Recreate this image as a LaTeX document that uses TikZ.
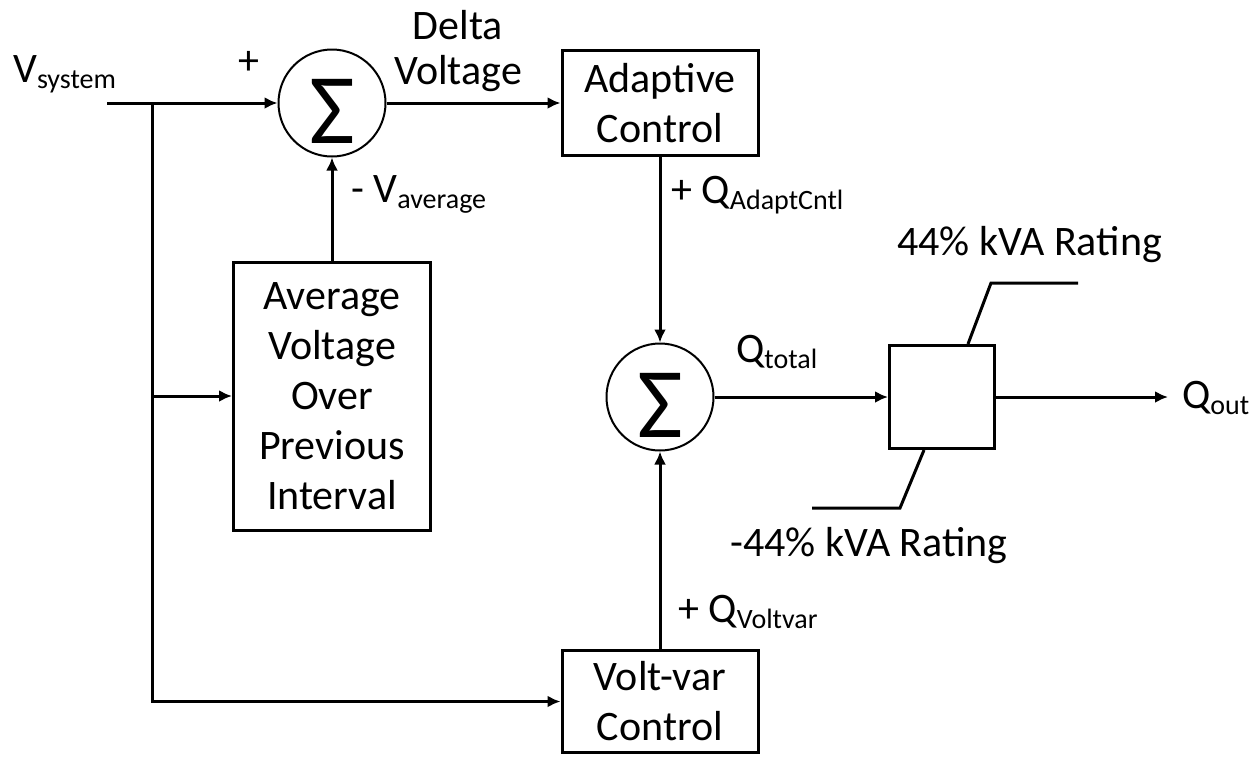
\documentclass[tikz,border=0pt]{standalone}
\usepackage{fontspec}
\setmainfont{Carlito}
\usetikzlibrary{arrows.meta}
\newcommand{\lowtxt}[1]{\raisebox{-6pt}{\fontsize{28}{28}\selectfont #1}}
\newcommand{\sigfont}{\fontsize{100}{100}\selectfont}
\begin{document}
\begin{tikzpicture}[x=1pt, y=-1pt, >={Latex[length=13pt,width=12pt]}]
	\tikzset{
		blok/.style={draw, line width=3pt, align=center, inner sep=0pt, font=\fontsize{42}{50}\selectfont},
		sumnode/.style={draw, circle, line width=2pt, minimum size=107pt, inner sep=0pt,
			label={[font=\sigfont, yshift=-8pt]center:Σ}},
		lbl/.style={inner sep=0pt, font=\fontsize{42}{50}\selectfont},
		wire/.style={line width=3pt}
	}
	\useasboundingbox (0,0) rectangle (1253,756);
	% --- 1. Blocks ---
	\node[sumnode] (sumA) at (332,103) {};
	\node[sumnode] (sumB) at (660,397) {};
	\node[blok, minimum width=196pt, minimum height=105pt] (adapt) at (660,103) {Adaptive\\Control};
	\node[blok, minimum width=197pt, minimum height=268pt] (avg) at (332,396) {Average\\Voltage\\Over\\Previous\\Interval};
	\node[blok, minimum width=196pt, minimum height=102pt] (volt) at (660,701.5) {Volt-var\\Control};
	\node[blok, minimum width=105pt, minimum height=103pt] (lim) at (942,397) {};
	% --- 2. Points ---
	\coordinate (vin) at (107,103);
	\coordinate (busTop) at (152,103);
	\coordinate (hiA) at (991,283);
	\coordinate (hiB) at (1078,283);
	\coordinate (loA) at (900,508);
	\coordinate (loB) at (812,508);
	% --- 3. Labels ---
	\node[lbl, anchor=base west] (vsys) at (13,82) {V\lowtxt{system}};
	\node[lbl] (plusA) at (249,63) {+};
	\node[lbl, align=center, font=\fontsize{42}{45}\selectfont] (delta) at (458,51) {Delta\\Voltage};
	\node[lbl, anchor=base west] (vavg) at (351,202) {- V\lowtxt{average}};
	\node[lbl, anchor=base west] (qadapt) at (671,203) {+ Q\lowtxt{AdaptCntl}};
	\node[lbl, anchor=base west] (qtotal) at (736,362) {Q\lowtxt{total}};
	\node[lbl, anchor=base west] (qvolt) at (678,622) {+ Q\lowtxt{Voltvar}};
	\node[lbl, anchor=base west] (hiLbl) at (897,255) {44\% kVA Rating};
	\node[lbl, anchor=base west] (loLbl) at (730,556) {-44\% kVA Rating};
	\node[lbl, anchor=base west, inner xsep=14pt] (qout) at (1168,408) {Q\lowtxt{out}};
	% --- 4. Signal lines ---
	\draw[wire, ->] (vin) -- (sumA);
	\draw[wire, ->] (sumA) -- (adapt);
	\draw[wire, ->] (avg) -- (sumA);
	\draw[wire, ->] (adapt) -- (sumB);
	\draw[wire, ->] (volt) -- (sumB);
	\draw[wire, ->] (sumB) -- (lim);
	\draw[wire, ->] (lim.east) -- (lim.east -| qout.west);
	\draw[wire, ->] (busTop) -- (busTop |- volt) -- (volt); % bus down to volt-var
	\draw[wire, ->] (busTop |- avg) -- (avg);
	% --- 5. Limits ---
	\draw[wire] ([xshift=26pt]lim.north) -- (hiA) -- (hiB);
	\draw[wire] ([xshift=-18pt]lim.south) -- (loA) -- (loB);
\end{tikzpicture}
\end{document}
